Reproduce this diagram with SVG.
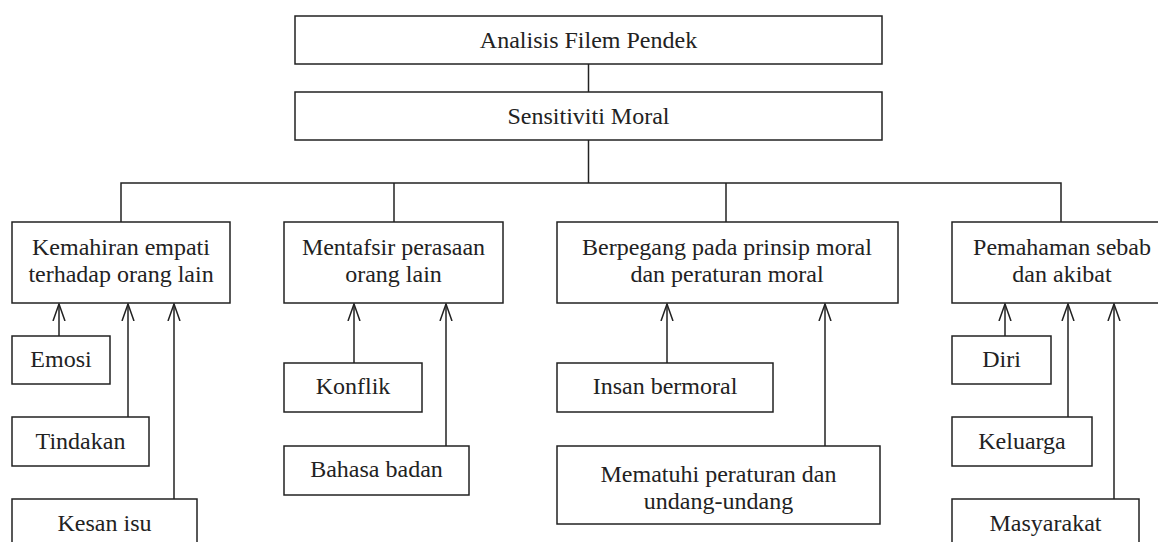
<svg xmlns="http://www.w3.org/2000/svg" width="1158" height="542" viewBox="0 0 1158 542">
<style>
.box{fill:#fff;stroke:#222;stroke-width:1.5}
.ln{fill:none;stroke:#222;stroke-width:1.5}
.t{font-family:"Liberation Serif","Times New Roman",serif;font-size:24px;fill:#222;text-anchor:middle}
</style>
<defs>
<marker id="arr" viewBox="0 0 18 14" refX="17" refY="7" markerWidth="18" markerHeight="14" markerUnits="userSpaceOnUse" orient="auto">
<path d="M0,1 L17,7 L0,13" fill="none" stroke="#222" stroke-width="1.5"/>
</marker>
</defs>
<rect width="1158" height="542" fill="#fff"/>
<g id="connectors">
<line class="ln" x1="588.5" y1="64" x2="588.5" y2="92"/>
<line class="ln" x1="588.5" y1="140" x2="588.5" y2="183"/>
<polyline class="ln" points="121,222 121,183 1061,183 1061,222"/>
<line class="ln" x1="394" y1="183" x2="394" y2="222"/>
<line class="ln" x1="726" y1="183" x2="726" y2="222"/>
<line class="ln" x1="59" y1="336" x2="59" y2="304" marker-end="url(#arr)"/>
<line class="ln" x1="128" y1="417" x2="128" y2="304" marker-end="url(#arr)"/>
<line class="ln" x1="174" y1="499" x2="174" y2="304" marker-end="url(#arr)"/>
<line class="ln" x1="354" y1="363" x2="354" y2="304" marker-end="url(#arr)"/>
<line class="ln" x1="446" y1="446" x2="446" y2="304" marker-end="url(#arr)"/>
<line class="ln" x1="667" y1="363" x2="667" y2="304" marker-end="url(#arr)"/>
<line class="ln" x1="825" y1="446" x2="825" y2="304" marker-end="url(#arr)"/>
<line class="ln" x1="1005" y1="336" x2="1005" y2="304" marker-end="url(#arr)"/>
<line class="ln" x1="1068" y1="417" x2="1068" y2="304" marker-end="url(#arr)"/>
<line class="ln" x1="1114" y1="499" x2="1114" y2="304" marker-end="url(#arr)"/>
</g>
<g id="n-analisis"><rect class="box" x="295" y="16" width="587" height="48"/><text class="t" x="588.5" y="48">Analisis Filem Pendek</text></g>
<g id="n-sensitiviti"><rect class="box" x="295" y="92" width="587" height="48"/><text class="t" x="588.5" y="124">Sensitiviti Moral</text></g>
<g id="n-kemahiran"><rect class="box" x="12" y="222" width="218" height="81"/><text class="t" x="121" y="255">Kemahiran empati</text><text class="t" x="121" y="282">terhadap orang lain</text></g>
<g id="n-mentafsir"><rect class="box" x="284" y="222" width="219" height="81"/><text class="t" x="393.5" y="255">Mentafsir perasaan</text><text class="t" x="393.5" y="282">orang lain</text></g>
<g id="n-berpegang"><rect class="box" x="557" y="222" width="341" height="81"/><text class="t" x="727" y="255">Berpegang pada prinsip moral</text><text class="t" x="727" y="282">dan peraturan moral</text></g>
<g id="n-pemahaman"><rect class="box" x="952" y="222" width="220" height="81"/><text class="t" x="1062" y="255">Pemahaman sebab</text><text class="t" x="1062" y="282">dan akibat</text></g>
<g id="n-emosi"><rect class="box" x="12" y="336" width="98" height="48"/><text class="t" x="61" y="367">Emosi</text></g>
<g id="n-tindakan"><rect class="box" x="12" y="417" width="137" height="49"/><text class="t" x="80.5" y="449">Tindakan</text></g>
<g id="n-kesan"><rect class="box" x="12" y="499" width="185" height="60"/><text class="t" x="104.5" y="531">Kesan isu</text></g>
<g id="n-konflik"><rect class="box" x="284" y="363" width="138" height="49"/><text class="t" x="353" y="394">Konflik</text></g>
<g id="n-bahasa"><rect class="box" x="284" y="446" width="185" height="49"/><text class="t" x="376.5" y="477">Bahasa badan</text></g>
<g id="n-insan"><rect class="box" x="557" y="363" width="216" height="49"/><text class="t" x="665" y="394">Insan bermoral</text></g>
<g id="n-mematuhi"><rect class="box" x="557" y="446" width="323" height="78"/><text class="t" x="718.5" y="482">Mematuhi peraturan dan</text><text class="t" x="718.5" y="509">undang-undang</text></g>
<g id="n-diri"><rect class="box" x="952" y="336" width="99" height="48"/><text class="t" x="1001.5" y="367">Diri</text></g>
<g id="n-keluarga"><rect class="box" x="952" y="417" width="140" height="49"/><text class="t" x="1022" y="449">Keluarga</text></g>
<g id="n-masyarakat"><rect class="box" x="952" y="499" width="187" height="60"/><text class="t" x="1045.5" y="531">Masyarakat</text></g>
</svg>
